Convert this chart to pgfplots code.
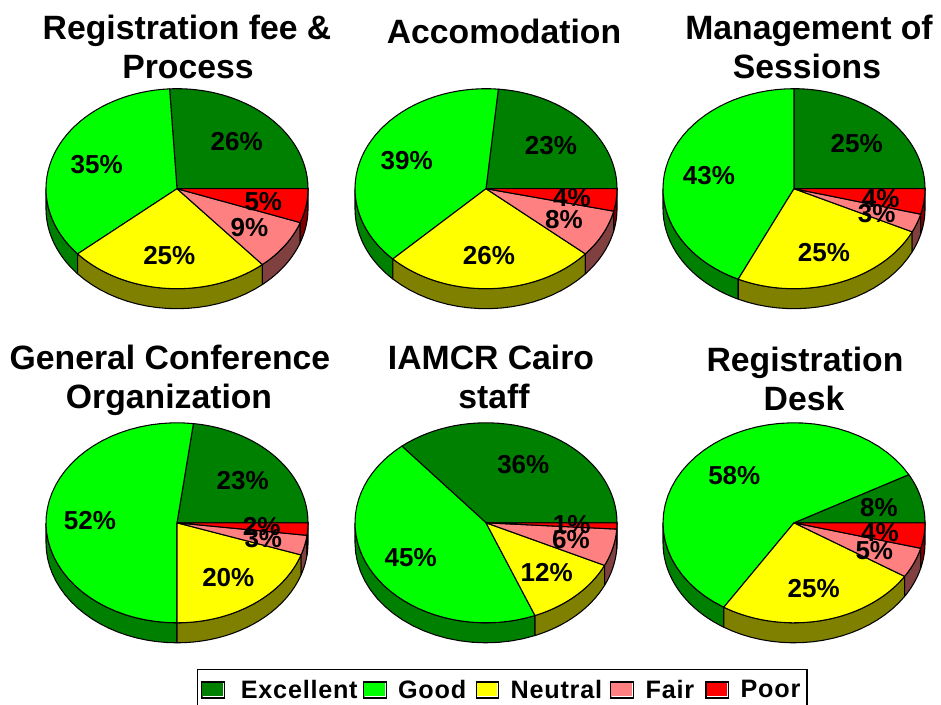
\documentclass[border=0pt]{standalone}
\usepackage{pgfplots}
\usepackage{pgfplotstable}
\usepackage{fontspec}
\pgfplotsset{compat=1.18}
\setmainfont{Liberation Sans}
\newfontfamily\legfont[LetterSpace=3]{Liberation Sans}
\definecolor{exc}{HTML}{008000}
\definecolor{goo}{HTML}{00FF00}
\definecolor{neu}{HTML}{FFFF00}
\definecolor{fai}{HTML}{FF8080}
\definecolor{poo}{HTML}{FF0000}
\definecolor{gooD}{HTML}{008000}
\definecolor{neuD}{HTML}{808000}
\definecolor{faiD}{HTML}{804040}
\definecolor{pooD}{HTML}{800000}
% parameter tables for the outline of one slice
\pgfplotstableread{
r t
0 0
1 0
1 0.025
1 0.05
1 0.075
1 0.1
1 0.125
1 0.15
1 0.175
1 0.2
1 0.225
1 0.25
1 0.275
1 0.3
1 0.325
1 0.35
1 0.375
1 0.4
1 0.425
1 0.45
1 0.475
1 0.5
1 0.525
1 0.55
1 0.575
1 0.6
1 0.625
1 0.65
1 0.675
1 0.7
1 0.725
1 0.75
1 0.775
1 0.8
1 0.825
1 0.85
1 0.875
1 0.9
1 0.925
1 0.95
1 0.975
1 1
0 1
}\wedgeT
\pgfplotstableread{
s t
0 0
0 0.05
0 0.1
0 0.15
0 0.2
0 0.25
0 0.3
0 0.35
0 0.4
0 0.45
0 0.5
0 0.55
0 0.6
0 0.65
0 0.7
0 0.75
0 0.8
0 0.85
0 0.9
0 0.95
0 1
1 1
1 0.95
1 0.9
1 0.85
1 0.8
1 0.75
1 0.7
1 0.65
1 0.6
1 0.55
1 0.5
1 0.45
1 0.4
1 0.35
1 0.3
1 0.25
1 0.2
1 0.15
1 0.1
1 0.05
1 0
0 0
}\rimT
% \slice{start percent}{percent}{colour}
\newcommand\slice[3]{\addplot[no markers,draw=black,line width=.8pt,line join=round,fill=#3]
  table[x expr={\thisrow{r}*cos(3.6*(#1+\thisrow{t}*#2))},
        y expr={\thisrow{r}*sin(3.6*(#1+\thisrow{t}*#2))}]{\wedgeT};}
% \rim{start percent}{percent}{colour}: visible side, lower half only
\newcommand\rim[3]{\addplot[no markers,draw=black,line width=.8pt,line join=round,fill=#3]
  table[x expr={cos(3.6*(max(#1,50)+\thisrow{t}*(#1+#2-max(#1,50))))},
        y expr={sin(3.6*(max(#1,50)+\thisrow{t}*(#1+#2-max(#1,50))))-0.2*\thisrow{s}}]{\rimT};}
% \pie{exc}{start good}{good}{start neu}{neu}{start fair}{fair}{start poor}{poor}
\newcommand\pie[9]{%
  \rim{#2}{#3}{gooD}\rim{#4}{#5}{neuD}\rim{#6}{#7}{faiD}\rim{#8}{#9}{pooD}
  \slice{0}{#1}{exc}\slice{#2}{#3}{goo}\slice{#4}{#5}{neu}\slice{#6}{#7}{fai}\slice{#8}{#9}{poo}}
\newcommand\tl[3]{\node[font=\fontsize{25.3pt}{30pt}\selectfont\bfseries,inner sep=0pt,anchor=base] at ({(#1)*0.75pt},{(704-(#2))*0.75pt}) {#3};}
\newcommand\pc[3]{\node[font=\fontsize{19.5pt}{24pt}\selectfont\bfseries,inner sep=0pt] at ({(#1)*0.75pt},{(704-(#2))*0.75pt}) {#3\%};}
\pgfplotsset{piechart/.style={hide axis,scale only axis,width=196.5pt,height=150pt,
  xmin=-1,xmax=1,ymin=-1,ymax=1,clip=false,anchor=center}}
\begin{document}
\begin{tikzpicture}
\path[use as bounding box] (0,0) rectangle (705.75pt,528pt);
\begin{axis}[piechart,at={({177*0.75pt},{515.3*0.75pt})}]
\pie{25.9}{25.9}{35.4}{61.3}{25}{86.3}{8.2}{94.5}{5.5}
\end{axis}
\begin{axis}[piechart,at={({486*0.75pt},{515.3*0.75pt})}]
\pie{23.5}{23.5}{38.9}{62.4}{26.3}{88.7}{7.7}{96.4}{3.6}
\end{axis}
\begin{axis}[piechart,at={({794*0.75pt},{515.3*0.75pt})}]
\pie{25}{25}{43}{68}{24.9}{92.9}{3}{95.9}{4.1}
\end{axis}
\begin{axis}[piechart,at={({177*0.75pt},{181.2*0.75pt})}]
\pie{23}{23}{52}{75}{19.8}{94.8}{3.2}{98}{2}
\end{axis}
\begin{axis}[piechart,at={({486*0.75pt},{181.2*0.75pt})}]
\pie{36.1}{36.1}{45}{81.1}{11.9}{93}{6}{99}{1}
\end{axis}
\begin{axis}[piechart,at={({794*0.75pt},{181.2*0.75pt})}]
\pie{8}{8}{58}{66}{25}{91}{4.9}{95.9}{4.1}
\end{axis}
% legend
\begin{axis}[hide axis,scale only axis,width=456pt,height=25pt,xmin=0,xmax=1,ymin=0,ymax=1,
  anchor=center,at={({502*0.75pt},{14*0.75pt})},
  legend columns=5,
  legend style={at={(0.5,0.5)},anchor=center,draw=black,line width=.8pt,inner xsep=3pt,inner ysep=6pt,
    font=\fontsize{18.9pt}{22pt}\selectfont\legfont\bfseries,
    /tikz/every even column/.append style={column sep=2pt}},
  legend image code/.code={
    \path[draw=none,fill=none] (0pt,0pt) -- (24pt,0pt);
    \draw[#1,draw=black,line width=.8pt] (0pt,-6pt) rectangle (17pt,6pt);
    \draw[white,fill=none,line width=.8pt] (0.8pt,-5.2pt) -- (16.2pt,-5.2pt) -- (16.2pt,5.2pt);},
  ]
\addlegendimage{fill=exc}\addlegendentry{\hspace*{3.5pt}Excellent}
\addlegendimage{fill=goo}\addlegendentry{Good\hspace*{3pt}}
\addlegendimage{fill=neu}\addlegendentry{Neutral\hspace*{2.25pt}}
\addlegendimage{fill=fai}\addlegendentry{Fair\hspace*{4.5pt}}
\addlegendimage{fill=poo}\addlegendentry{Poor}
\end{axis}
% titles
\tl{187}{39.5}{Registration fee \&}\tl{188}{79}{Process}
\tl{504}{44}{Accomodation}
\tl{809}{39.5}{Management of}\tl{807}{79}{Sessions}
\tl{170}{369}{General Conference}\tl{169}{408}{Organization}
\tl{491}{369}{IAMCR Cairo}\tl{494}{408}{staff}
\tl{805}{371}{Registration}\tl{804}{410}{Desk}
% percentage labels
\pc{236.7}{142}{26}\pc{96.7}{165}{35}\pc{169.3}{256}{25}\pc{249.5}{227.7}{9}\pc{263.3}{202}{5}
\pc{551}{146}{23}\pc{406.7}{161}{39}\pc{489}{256}{26}\pc{564}{220}{8}\pc{572}{197.5}{4}
\pc{856.7}{144}{25}\pc{709}{175.7}{43}\pc{824}{252.3}{25}\pc{876.7}{213.3}{3}\pc{880.7}{198.3}{4}
\pc{242.7}{480.7}{23}\pc{90}{520.7}{52}\pc{228.3}{577.7}{20}\pc{263.3}{539}{3}\pc{261.7}{527}{2}
\pc{523.3}{465}{36}\pc{410.7}{558}{45}\pc{546.7}{572.7}{12}\pc{571}{540}{6}\pc{571.7}{525}{1}
\pc{879}{507.7}{8}\pc{734.3}{475.7}{58}\pc{813.7}{588.3}{25}\pc{874.3}{550.7}{5}\pc{880}{532.3}{4}
\end{tikzpicture}
\end{document}
